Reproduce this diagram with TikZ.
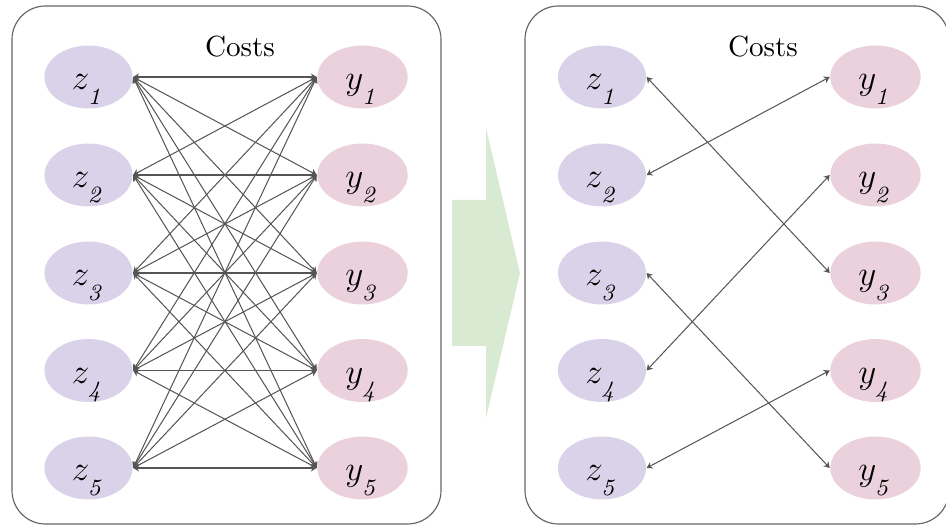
\documentclass[tikz,border=0pt]{standalone}
\usetikzlibrary{shapes.geometric,arrows.meta}

\definecolor{zfill}{HTML}{D9D2E9}
\definecolor{yfill}{HTML}{EAD1DC}
\definecolor{arrowfill}{HTML}{D9EAD3}
\definecolor{framegray}{HTML}{666666}
\definecolor{linkgray}{HTML}{555555}

% variable with a deeply dropped italic index
\newcommand{\dropsub}[2]{$#1_{\lower3.3pt\hbox{$\scriptstyle\mathit{#2}$}}$}

\tikzset{
  panel/.style={draw=framegray, line width=0.4pt, rounded corners=11.5pt},
  varnode/.style={ellipse, draw=none, inner sep=0pt, minimum height=21.6pt,
                  font=\large, text height=8.6pt, text depth=0pt},
  zvar/.style={varnode, fill=zfill, minimum width=30.2pt},
  yvar/.style={varnode, fill=yfill, minimum width=31pt},
  link/.style={draw=linkgray, line width=0.35pt, {Stealth[length=2pt,width=2.4pt]}-{Stealth[length=2pt,width=2.4pt]}},
  heading/.style={font=\normalsize}
}

\begin{document}
\begin{tikzpicture}[x=0.343pt, y=-0.343pt]
  \useasboundingbox (0,0) rectangle (946,525);
  \clip (0,0) rectangle (946,525);

  % panels
  \draw[panel] (12,6) rectangle (441,524);
  \draw[panel] (525,6) rectangle (949,524);

  % transition arrow
  \fill[arrowfill] (452,200) -- (486,200) -- (486,128) -- (520,273) -- (486,418) -- (486,346) -- (452,346) -- cycle;

  % left panel: all pairings
  \node[heading] (costsL) at (240,47) {Costs};
  \foreach \i/\yy in {1/77,2/175,3/273,4/370.5,5/468} {
    \node[zvar] (lz\i) at (88.5,\yy) {\dropsub{z}{\i}};
    \node[yvar] (ly\i) at (362.5,\yy) {\dropsub{y}{\i}};
  }
  \foreach \i in {1,...,5} {
    \foreach \j in {1,...,5} {
      \draw[link] (lz\i.east) -- (ly\j.west);
    }
  }

  % right panel: chosen assignment
  \node[heading] (costsR) at (763,47) {Costs};
  \foreach \i/\yy in {1/77,2/175,3/273,4/370.5,5/468} {
    \node[zvar] (rz\i) at (602,\yy) {\dropsub{z}{\i}};
    \node[yvar] (ry\i) at (875.5,\yy) {\dropsub{y}{\i}};
  }
  \foreach \a/\b in {1/3,2/1,3/5,4/2,5/4} {
    \draw[link] (rz\a.east) -- (ry\b.west);
  }
\end{tikzpicture}
\end{document}
